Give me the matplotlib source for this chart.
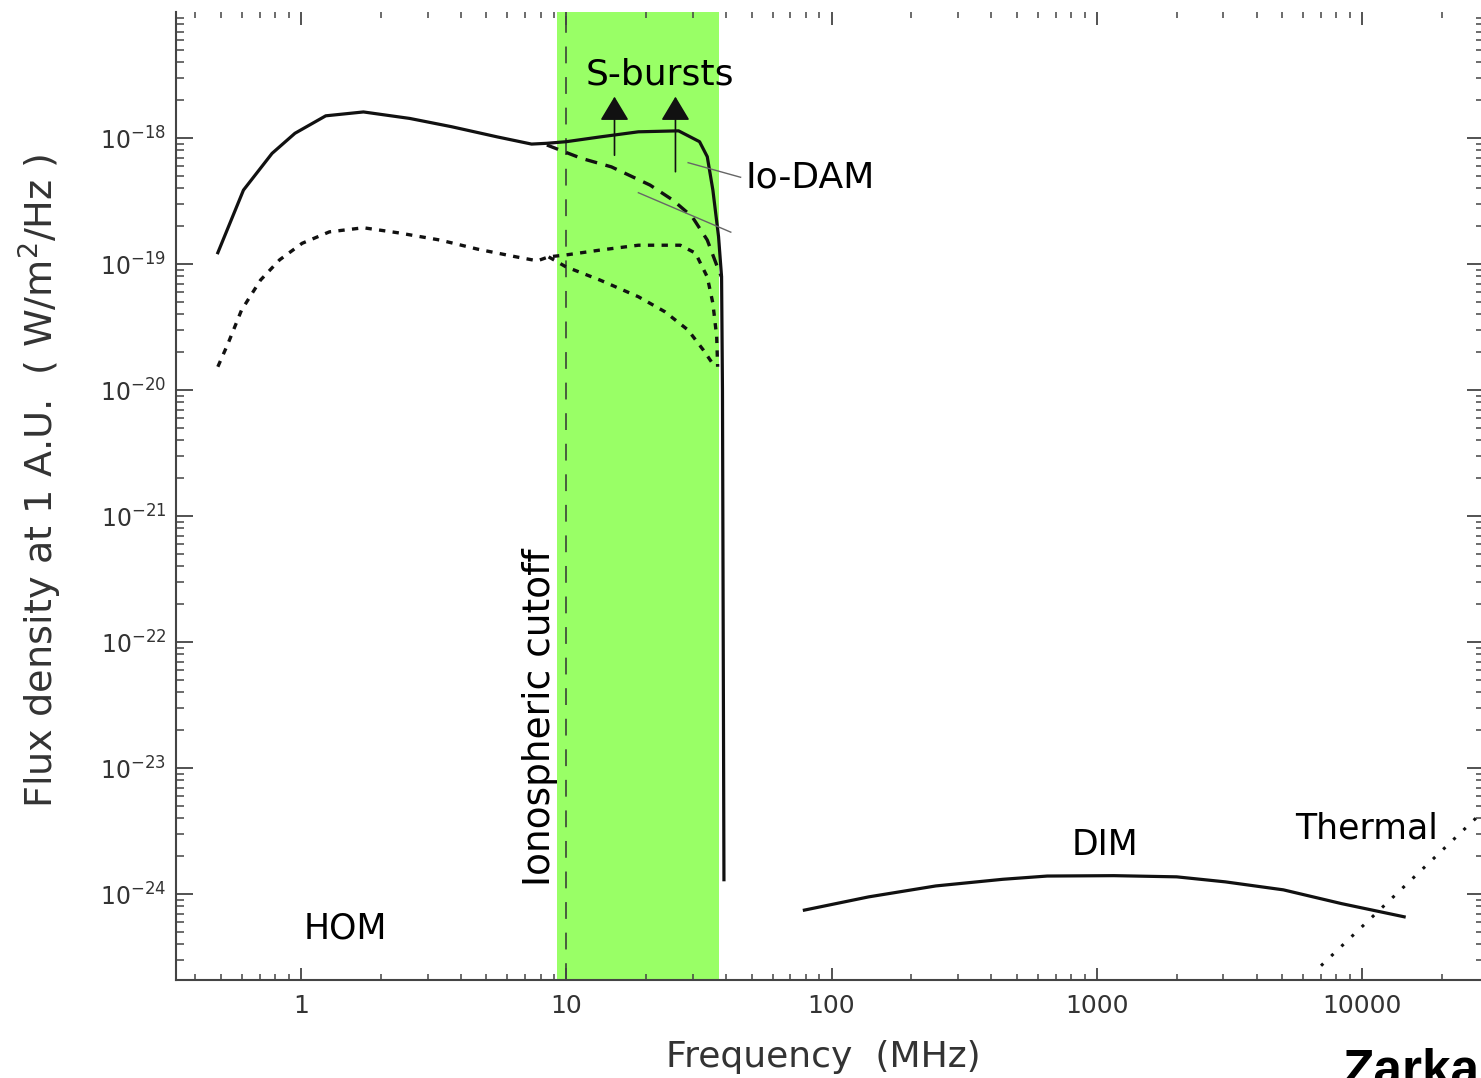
import matplotlib
matplotlib.use("Agg")
import matplotlib.pyplot as plt
from matplotlib.ticker import FixedLocator, LogLocator, NullFormatter, FixedFormatter

# --- Plot Config ---
plt.rcParams.update({
    "font.family": "DejaVu Sans",
    "mathtext.fontset": "custom",
    "mathtext.rm": "Liberation Sans",
    "mathtext.it": "Liberation Sans:italic",
    "mathtext.bf": "Liberation Sans:bold",
    "axes.unicode_minus": False,
})

# --- Data: frequency (MHz), flux density (W/m^2/Hz) ---
# HOM + Io-DAM upper envelope (solid)
env_freq = [0.486, 0.607, 0.778, 0.949, 1.24, 1.72, 2.57, 3.69, 5.5, 7.4, 8.45,
            10.0, 13.4, 18.7, 26.5, 31.8, 34.0, 35.7, 37.5, 38.5, 38.8, 39.3]
env_flux = [1.23e-19, 3.86e-19, 7.55e-19, 1.09e-18, 1.50e-18, 1.61e-18, 1.43e-18,
            1.23e-18, 1.02e-18, 8.95e-19, 9.08e-19, 9.35e-19, 1.02e-18, 1.12e-18,
            1.14e-18, 9.35e-19, 7.11e-19, 3.86e-19, 1.65e-19, 7.9e-20, 1.0e-20, 1.3e-24]

# non-Io-DAM (dashed)
dam_freq = [8.45, 11.4, 14.8, 20.7, 25.2, 29.8, 34.0, 37.5, 38.5]
dam_flux = [8.8e-19, 6.9e-19, 5.9e-19, 4.23e-19, 3.22e-19, 2.38e-19, 1.55e-19, 8.95e-20, 7.9e-20]

# average HOM + Io-DAM (dotted)
avg_freq = [0.486, 0.531, 0.597, 0.704, 0.831, 1.01, 1.28, 1.72, 2.32, 3.34, 4.65,
            6.47, 7.78, 8.58, 9.97, 13.4, 18.7, 26.9, 30.7, 34.0, 35.7, 36.9, 37.2]
avg_flux = [1.53e-20, 2.34e-20, 4.31e-20, 7.46e-20, 1.08e-19, 1.46e-19, 1.80e-19,
            1.94e-19, 1.77e-19, 1.55e-19, 1.31e-19, 1.14e-19, 1.06e-19, 1.14e-19,
            1.18e-19, 1.29e-19, 1.41e-19, 1.41e-19, 1.22e-19, 7.9e-20, 4.88e-20,
            2.65e-20, 1.53e-20]

# average non-Io-DAM (dotted)
avg_dam_freq = [8.58, 9.97, 13.4, 18.7, 23.5, 28.8, 32.9, 36.3]
avg_dam_flux = [1.14e-19, 9.5e-20, 7.46e-20, 5.5e-20, 4.19e-20, 2.99e-20, 2.07e-20, 1.53e-20]

# DIM
dim_freq = [79, 138, 247, 442, 650, 1160, 2000, 3050, 5050, 8360, 14400]
dim_flux = [7.46e-25, 9.5e-25, 1.16e-24, 1.31e-24, 1.39e-24, 1.40e-24, 1.37e-24,
            1.25e-24, 1.08e-24, 8.4e-25, 6.6e-25]

# Thermal
thermal_freq = [7000, 30000]
thermal_flux = [2.7e-25, 5.0e-24]

# S-bursts arrows (freq, base, tip)
sb_freq = [15.2, 25.8]
sb_base = [7.3e-19, 5.4e-19]
sb_tip = 2.13e-18

band = (9.23, 37.6)
iono_cutoff = 10.0

xticks = [1, 10, 100, 1000, 10000]
xticklabels = ["1", "10", "100", "1000", "10000"]
yticks = [1e-24, 1e-23, 1e-22, 1e-21, 1e-20, 1e-19, 1e-18]

# --- Figure / axes ---
W, H = 1481, 1078
fig = plt.figure(figsize=(W / 100, H / 100), dpi=100)
ax = fig.add_axes([176 / W, 98 / H, (1484 - 176) / W, (1066 - 98) / H])
ax.set_xscale("log")
ax.set_yscale("log")
ax.set_xlim(0.338, 28800)
ax.set_ylim(2.08e-25, 1e-17)

ax.axvspan(*band, color="#99ff66", lw=0, zorder=0)
ax.axvline(iono_cutoff, color="#333333", lw=1.1, ls=(0, (11, 9)), zorder=1)

ink = "#111111"
ax.plot(env_freq, env_flux, color=ink, lw=2.3, zorder=3)
ax.plot(dam_freq, dam_flux, color=ink, lw=2.4, ls=(0, (3.6, 2.6)), zorder=3)
ax.plot(avg_freq, avg_flux, color=ink, lw=2.4, ls=(0, (1.9, 2.2)), zorder=3)
ax.plot(avg_dam_freq, avg_dam_flux, color=ink, lw=2.4, ls=(0, (1.9, 2.2)), zorder=3)
ax.plot(dim_freq, dim_flux, color=ink, lw=2.3, zorder=3)
ax.plot(thermal_freq, thermal_flux, color=ink, lw=2.2, ls=(0, (1, 3.6)), zorder=3)

# S-burst arrows
for f, b in zip(sb_freq, sb_base):
    ax.annotate("", xy=(f, sb_tip), xytext=(f, b), zorder=4,
                arrowprops=dict(arrowstyle="-|>,head_length=0.75,head_width=0.45",
                                mutation_scale=20, color="#111111", lw=1.2,
                                shrinkA=0, shrinkB=0))

# Io-DAM pointer lines
ax.plot([28.8, 45.4], [6.37e-19, 4.88e-19], color="#666666", lw=1.0, zorder=4)
ax.plot([18.7, 41.7], [3.68e-19, 1.79e-19], color="#666666", lw=1.0, zorder=4)

# --- Annotations ---
ax.text(22.6, 3.22e-18, "S-bursts", fontsize=26, ha="center", va="center")
ax.text(47.2, 4.9e-19, "Io-DAM", fontsize=26, ha="left", va="center")
ax.text(1.465, 5.37e-25, "HOM", fontsize=25, ha="center", va="center")
ax.text(1073, 2.45e-24, "DIM", fontsize=25, ha="center", va="center")
ax.text(10430, 3.34e-24, "Thermal", fontsize=25, ha="center", va="center")
ax.text(7.96, 2.54e-23, "Ionospheric cutoff", fontsize=27, rotation=90,
        ha="center", va="center")

# --- Ticks ---
ax.xaxis.set_major_locator(FixedLocator(xticks))
ax.xaxis.set_major_formatter(FixedFormatter(xticklabels))
ax.xaxis.set_minor_locator(LogLocator(base=10, subs=range(2, 10), numticks=20))
ax.xaxis.set_minor_formatter(NullFormatter())
ax.yaxis.set_major_locator(FixedLocator(yticks))
ax.yaxis.set_minor_locator(LogLocator(base=10, subs=range(2, 10), numticks=20))
ax.yaxis.set_minor_formatter(NullFormatter())

ax.tick_params(axis="x", which="major", direction="in", length=9, width=1.3,
               top=True, bottom=True, labelsize=18, pad=10, colors="#444444",
               labelcolor="#333333")
ax.tick_params(axis="x", which="minor", direction="in", length=4.5, width=1.1,
               top=True, bottom=True, colors="#444444")
ax.tick_params(axis="y", which="major", direction="in", length=12, width=1.3,
               left=True, right=True, labelsize=17, pad=7, colors="#444444",
               labelcolor="#333333")
ax.tick_params(axis="y", which="minor", direction="in", length=6, width=1.1,
               left=True, right=True, colors="#444444")

for side in ["left", "bottom", "right"]:
    ax.spines[side].set_linewidth(1.5)
    ax.spines[side].set_color("#444444")
ax.spines["top"].set_visible(False)

# --- Axis labels ---
fig.text(40 / W, 1 - 481 / H, "Flux density at 1 A.U.  ( W/m$^{2}$/Hz )",
         rotation=90, fontsize=27.5, ha="center", va="center", color="#333333",
         math_fontfamily="dejavusans")
fig.text(823 / W, 1 - 1057 / H, "Frequency  (MHz)", fontsize=26,
         ha="center", va="center", color="#333333")
# author credit, cut off by the bottom/right edge as in the reference
fig.text(1343 / W, -8 / H, "Zarka", fontsize=37, fontweight="bold",
         family="Liberation Sans", ha="left", va="baseline")

plt.savefig("out.png", dpi=100)
